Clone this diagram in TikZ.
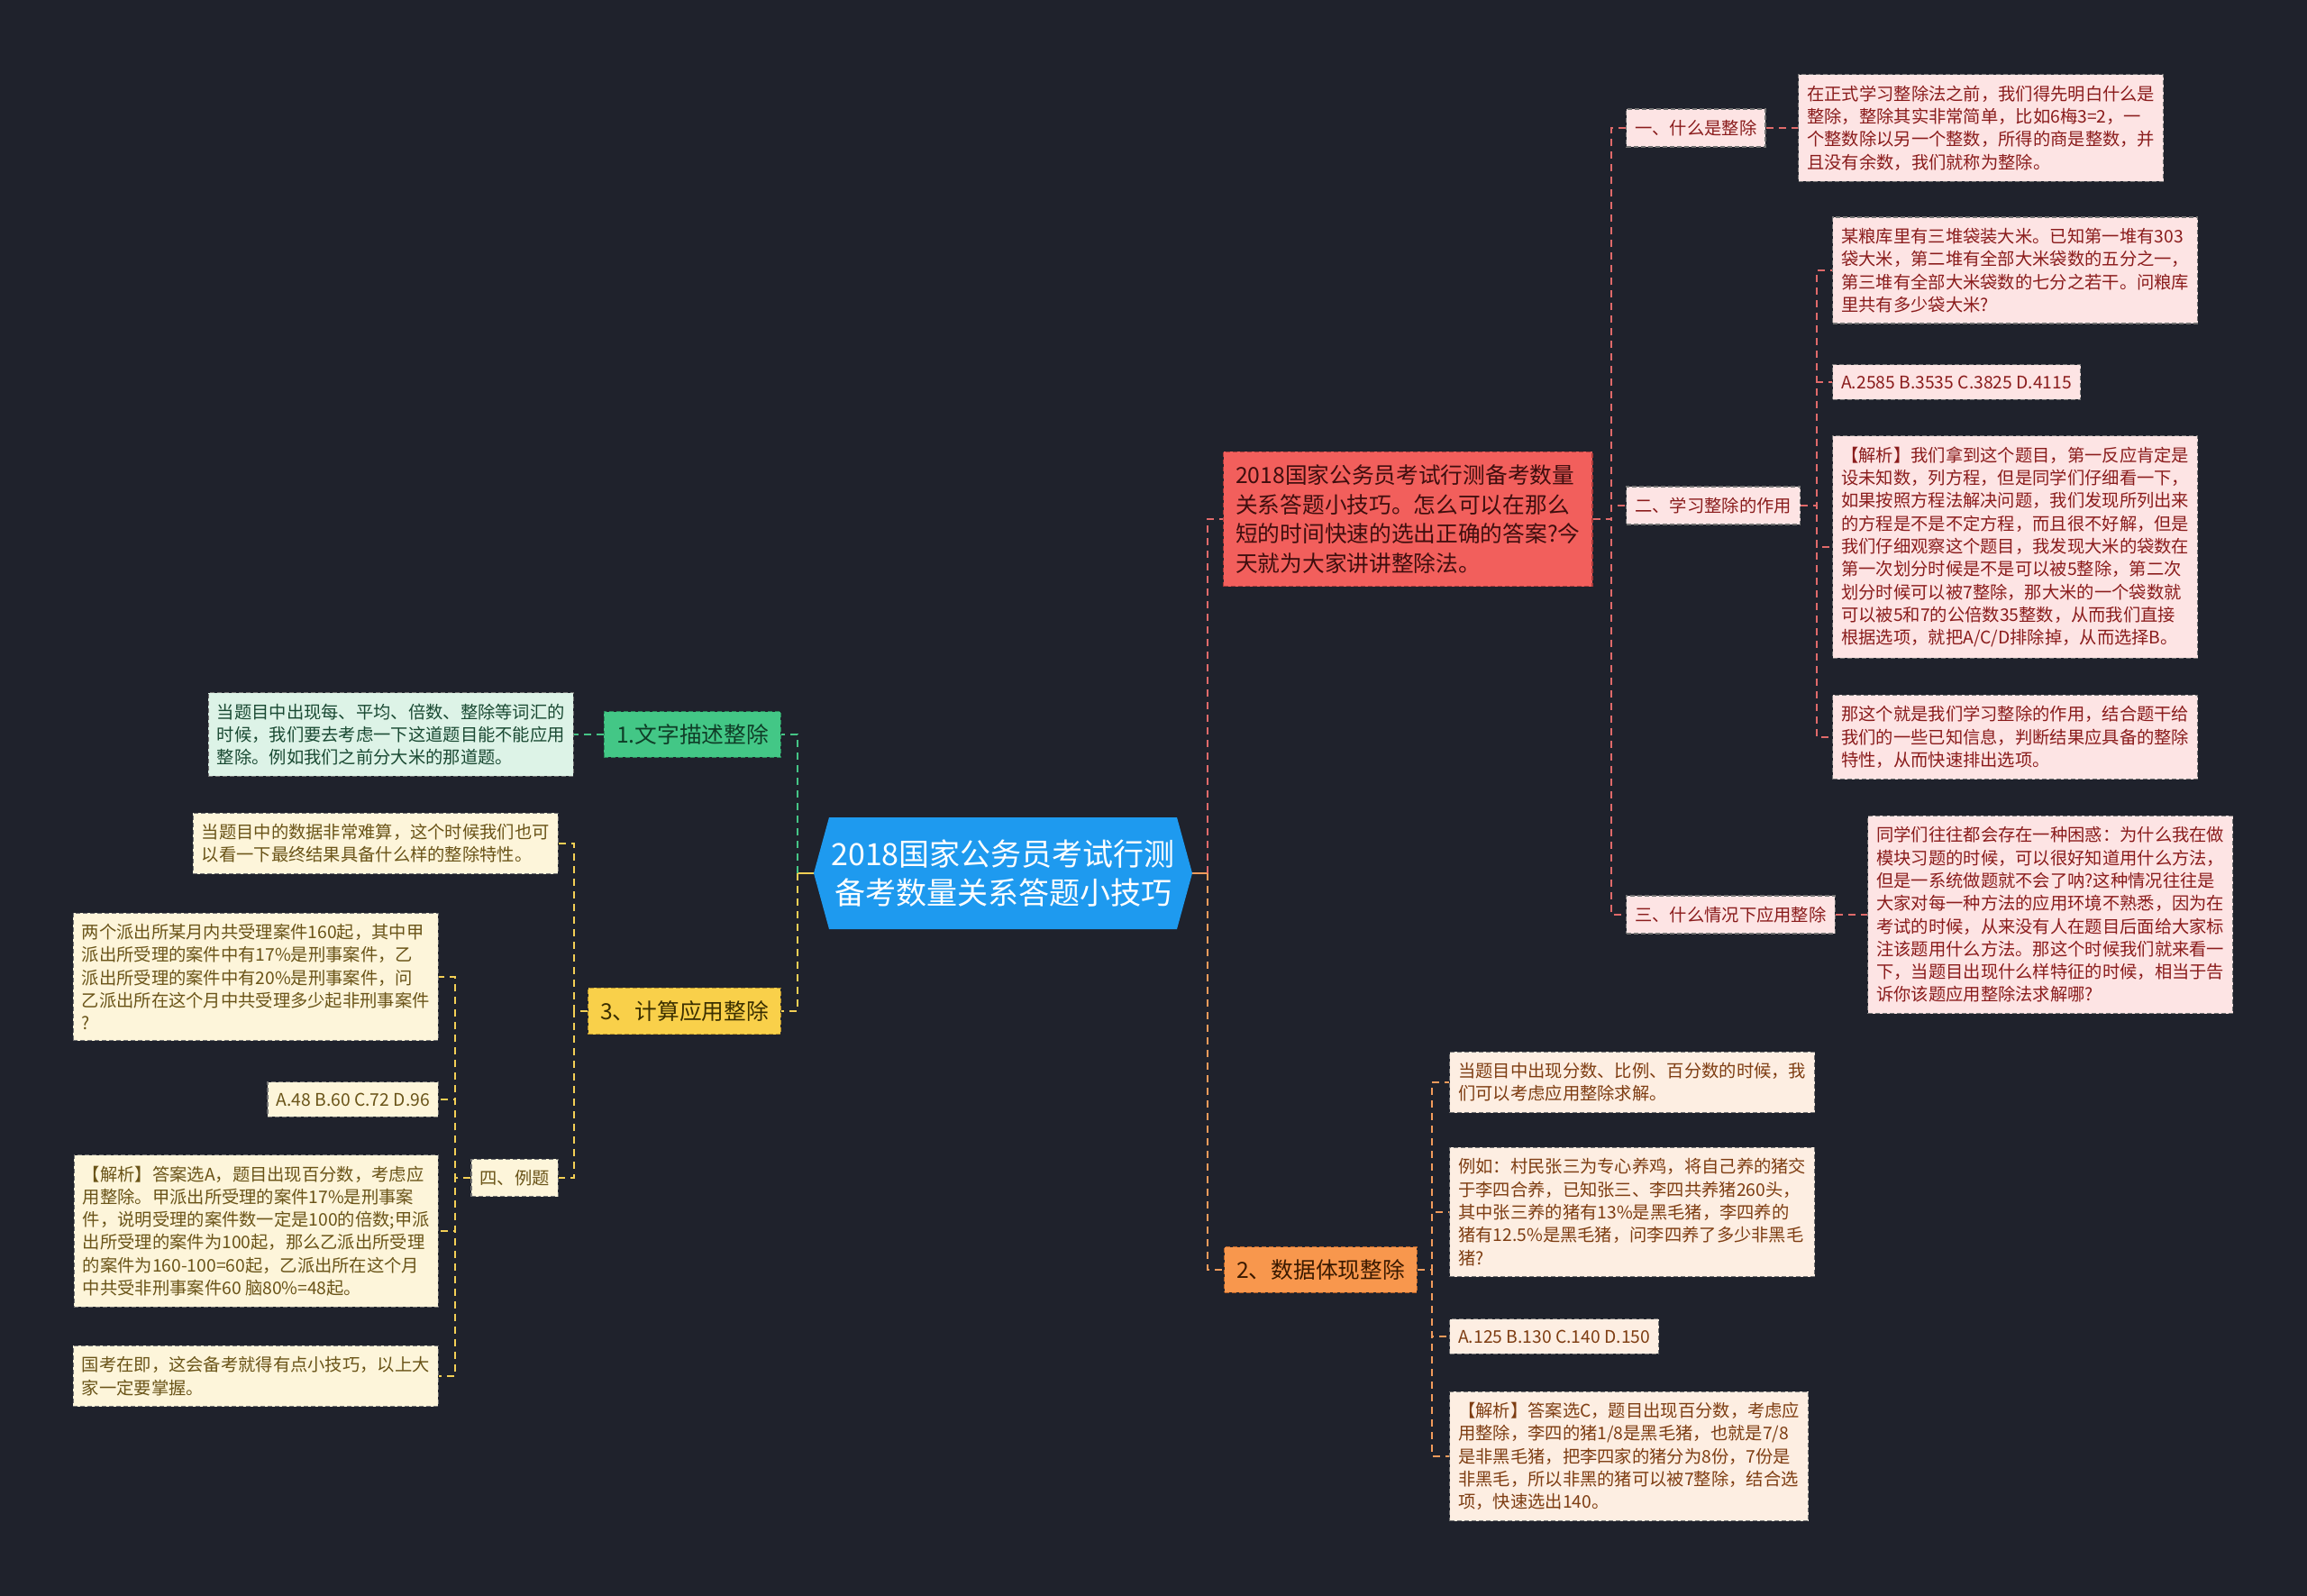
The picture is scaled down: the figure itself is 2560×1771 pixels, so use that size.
\documentclass[tikz,border=0pt]{standalone}
\usepackage{fontspec}
\setmainfont{Noto Sans CJK SC}
\usetikzlibrary{calc}
\definecolor{bg}{HTML}{1F222C}
\definecolor{cblue}{HTML}{1E9AEF}
\definecolor{redfill}{HTML}{F25F5C}
\definecolor{redtext}{HTML}{3F0E0E}
\definecolor{reddraw}{HTML}{A83A3A}
\definecolor{pinkfill}{HTML}{FDE4E4}
\definecolor{pinktext}{HTML}{8A1C1C}
\definecolor{redline}{HTML}{E06A6A}
\definecolor{greenfill}{HTML}{43C786}
\definecolor{greentext}{HTML}{0F3D27}
\definecolor{greendraw}{HTML}{2A8A5A}
\definecolor{greenleaf}{HTML}{DDF3E7}
\definecolor{greenltext}{HTML}{1A4A33}
\definecolor{greenline}{HTML}{45C586}
\definecolor{yelfill}{HTML}{F9D04A}
\definecolor{yeltext}{HTML}{3B2F00}
\definecolor{yeldraw}{HTML}{B8922A}
\definecolor{yelleaf}{HTML}{FDF5DA}
\definecolor{yelltext}{HTML}{6A5418}
\definecolor{yelline}{HTML}{F3CF55}
\definecolor{orfill}{HTML}{F8974D}
\definecolor{ortext}{HTML}{3B1A00}
\definecolor{ordraw}{HTML}{B8642A}
\definecolor{orleaf}{HTML}{FDEEE2}
\definecolor{orltext}{HTML}{7E3D12}
\definecolor{orline}{HTML}{F29B5B}
\tikzset{
  leafbase/.style={draw=black!55, dash pattern=on 2.5pt off 1.5pt, line width=0.6pt,
    inner xsep=4.8pt, inner ysep=6pt, align=left,
    font=\fontsize{9.65pt}{12.65pt}\selectfont},
  pinkleaf/.style={leafbase, fill=pinkfill, text=pinktext},
  greenleafbox/.style={leafbase, fill=greenleaf, text=greenltext},
  yelleafbox/.style={leafbase, fill=yelleaf, text=yelltext},
  orleafbox/.style={leafbase, fill=orleaf, text=orltext},
  mainbase/.style={dash pattern=on 2.5pt off 1.5pt, line width=0.6pt,
    inner xsep=6.8pt, inner ysep=7pt, align=left,
    font=\fontsize{12.35pt}{16.35pt}\selectfont},
  rednode/.style={mainbase, draw=reddraw, fill=redfill, text=redtext},
  greennode/.style={mainbase, draw=greendraw, fill=greenfill, text=greentext},
  yelnode/.style={mainbase, draw=yeldraw, fill=yelfill, text=yeltext},
  ornode/.style={mainbase, draw=ordraw, fill=orfill, text=ortext},
  conn/.style={dash pattern=on 4pt off 3pt, line width=1.1pt},
  solidconn/.style={line width=1.1pt},
}
\begin{document}
\begin{tikzpicture}[x=0.5pt,y=-0.5pt]
\fill[bg] (0,0) rectangle (2560,1771);
\useasboundingbox (0,0) rectangle (2560,1771);
% trunk coordinates
\coordinate (tL) at (885,0);
\coordinate (tR) at (1340,0);
\coordinate (tR1) at (1788,0);
\coordinate (tP2) at (2016,0);
\coordinate (tO) at (1589,0);
\coordinate (tY) at (637,0);
\coordinate (tY2) at (505,0);
% center
\fill[cblue] (920,907) -- (1306,907) -- (1323,969) -- (1306,1031) -- (920,1031) -- (903,969) -- cycle;
\node[text=white, align=center, font=\fontsize{17pt}{21.5pt}\selectfont, minimum width=193pt, minimum height=62pt, inner sep=0pt] (c) at (1113,969) {2018国家公务员考试行测\\备考数量关系答题小技巧};
\coordinate (cL) at ($(c.west)+(-17,0)$);
\coordinate (cR) at ($(c.east)+(17,0)$);

% right: red branch
\node[rednode, anchor=west] (r1) at (1357,576) {2018国家公务员考试行测备考数量\\关系答题小技巧。怎么可以在那么\\短的时间快速的选出正确的答案?今\\天就为大家讲讲整除法。};
\node[pinkleaf, anchor=west] (p1) at (1804,142) {一、什么是整除};
\node[pinkleaf, anchor=west] (p2) at (1804,561) {二、学习整除的作用};
\node[pinkleaf, anchor=west] (p3) at (1804,1015) {三、什么情况下应用整除};
\node[pinkleaf, anchor=west] (p1a) at (1995,142) {在正式学习整除法之前，我们得先明白什么是\\整除，整除其实非常简单，比如6梅3=2，一\\个整数除以另一个整数，所得的商是整数，并\\且没有余数，我们就称为整除。};
\node[pinkleaf, anchor=west] (p2a) at (2033,300) {某粮库里有三堆袋装大米。已知第一堆有303\\袋大米，第二堆有全部大米袋数的五分之一，\\第三堆有全部大米袋数的七分之若干。问粮库\\里共有多少袋大米?};
\node[pinkleaf, anchor=west] (p2b) at (2033,424) {A.2585 B.3535 C.3825 D.4115};
\node[pinkleaf, anchor=west] (p2c) at (2033,607) {【解析】我们拿到这个题目，第一反应肯定是\\设未知数，列方程，但是同学们仔细看一下，\\如果按照方程法解决问题，我们发现所列出来\\的方程是不是不定方程，而且很不好解，但是\\我们仔细观察这个题目，我发现大米的袋数在\\第一次划分时候是不是可以被5整除，第二次\\划分时候可以被7整除，那大米的一个袋数就\\可以被5和7的公倍数35整数，从而我们直接\\根据选项，就把A/C/D排除掉，从而选择B。};
\node[pinkleaf, anchor=west] (p2d) at (2033,818) {那这个就是我们学习整除的作用，结合题干给\\我们的一些已知信息，判断结果应具备的整除\\特性，从而快速排出选项。};
\node[pinkleaf, anchor=west] (p3a) at (2072,1015) {同学们往往都会存在一种困惑：为什么我在做\\模块习题的时候，可以很好知道用什么方法，\\但是一系统做题就不会了呐?这种情况往往是\\大家对每一种方法的应用环境不熟悉，因为在\\考试的时候，从来没有人在题目后面给大家标\\注该题用什么方法。那这个时候我们就来看一\\下，当题目出现什么样特征的时候，相当于告\\诉你该题应用整除法求解哪?};

% right: orange branch
\node[ornode, anchor=west] (o1) at (1358,1409) {2、数据体现整除};
\node[orleafbox, anchor=west] (o1a) at (1608,1201) {当题目中出现分数、比例、百分数的时候，我\\们可以考虑应用整除求解。};
\node[orleafbox, anchor=west] (o1b) at (1608,1345) {例如：村民张三为专心养鸡，将自己养的猪交\\于李四合养，已知张三、李四共养猪260头，\\其中张三养的猪有13\%是黑毛猪，李四养的\\猪有12.5\%是黑毛猪，问李四养了多少非黑毛\\猪?};
\node[orleafbox, anchor=west] (o1c) at (1608,1483) {A.125 B.130 C.140 D.150};
\node[orleafbox, anchor=west] (o1d) at (1608,1616) {【解析】答案选C，题目出现百分数，考虑应\\用整除，李四的猪1/8是黑毛猪，也就是7/8\\是非黑毛猪，把李四家的猪分为8份，7份是\\非黑毛，所以非黑的猪可以被7整除，结合选\\项，快速选出140。};

% left: green branch
\node[greennode, anchor=east] (g1) at (867,815) {1.文字描述整除};
\node[greenleafbox, anchor=east] (g1a) at (637,815) {当题目中出现每、平均、倍数、整除等词汇的\\时候，我们要去考虑一下这道题目能不能应用\\整除。例如我们之前分大米的那道题。};

% left: yellow branch
\node[yelnode, anchor=east] (y1) at (867,1122) {3、计算应用整除};
\node[yelleafbox, anchor=east] (y1a) at (620,936) {当题目中的数据非常难算，这个时候我们也可\\以看一下最终结果具备什么样的整除特性。};
\node[yelleafbox, anchor=east] (y2) at (620,1307) {四、例题};
\node[yelleafbox, anchor=east] (y2a) at (487,1084) {两个派出所某月内共受理案件160起，其中甲\\派出所受理的案件中有17\%是刑事案件，乙\\派出所受理的案件中有20\%是刑事案件，问\\乙派出所在这个月中共受理多少起非刑事案件\\?};
\node[yelleafbox, anchor=east] (y2b) at (487,1220) {A.48 B.60 C.72 D.96};
\node[yelleafbox, anchor=east] (y2c) at (487,1366) {【解析】答案选A，题目出现百分数，考虑应\\用整除。甲派出所受理的案件17\%是刑事案\\件，说明受理的案件数一定是100的倍数;甲派\\出所受理的案件为100起，那么乙派出所受理\\的案件为160-100=60起，乙派出所在这个月\\中共受非刑事案件60 脑80\%=48起。};
\node[yelleafbox, anchor=east] (y2d) at (487,1527) {国考在即，这会备考就得有点小技巧，以上大\\家一定要掌握。};

% connectors: center
\draw[solidconn, orline] (cR) -- (cR -| tR);
\draw[conn, redline] (cR -| tR) |- (r1.west);
\draw[conn, orline] (cR -| tR) |- (o1.west);
\draw[solidconn, yelline] (cL) -- (cL -| tL);
\draw[conn, greenline] (cL -| tL) |- (g1.east);
\draw[conn, yelline] (cL -| tL) |- (y1.east);

% red branch connectors
\foreach \n in {p1,p2,p3} \draw[conn, redline] (r1.east) -- (r1.east -| tR1) |- (\n.west);
\draw[conn, redline] (p1.east) -- (p1.east -| p1a.west);
\foreach \n in {p2a,p2b,p2c,p2d} \draw[conn, redline] (p2.east) -- (p2.east -| tP2) |- (\n.west);
\draw[conn, redline] (p3.east) -- (p3.east -| p3a.west);

% orange branch connectors
\foreach \n in {o1a,o1b,o1c,o1d} \draw[conn, orline] (o1.east) -- (o1.east -| tO) |- (\n.west);

% green branch connector
\draw[conn, greenline] (g1.west) -- (g1.west -| g1a.east);

% yellow branch connectors
\foreach \n in {y1a,y2} \draw[conn, yelline] (y1.west) -- (y1.west -| tY) |- (\n.east);
\foreach \n in {y2a,y2b,y2c,y2d} \draw[conn, yelline] (y2.west) -- (y2.west -| tY2) |- (\n.east);
\end{tikzpicture}
\end{document}
